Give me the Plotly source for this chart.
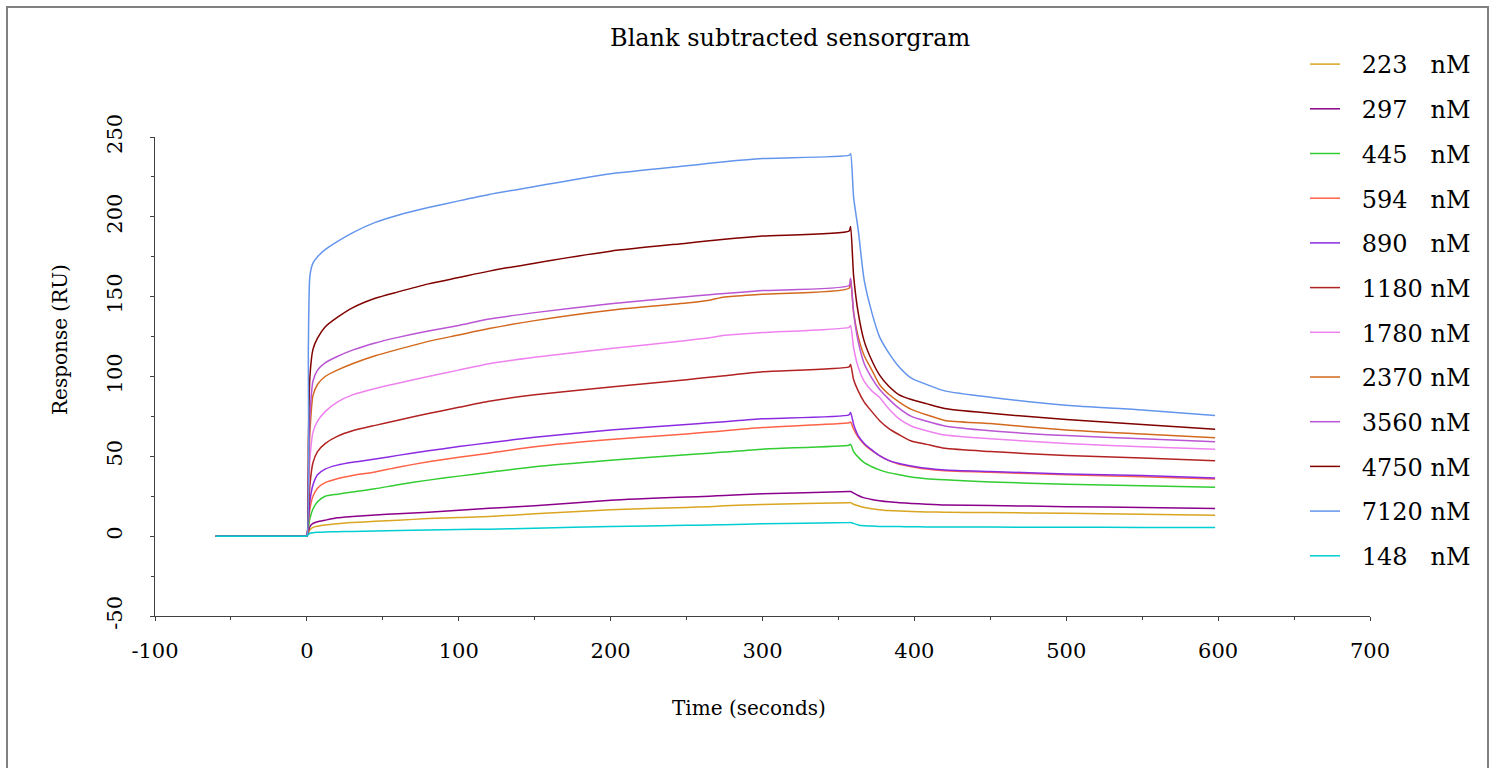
import plotly.graph_objects as go

# Time points (seconds)
times = [-60, -40, -20, -5, -1, 0, 1, 2, 4, 7, 12, 20, 30, 45, 60, 80, 100, 120, 150, 200, 250, 265, 275, 300, 357,
         358, 360, 363, 367, 372, 377, 383, 390, 398, 408, 420, 450, 500, 550, 598]

labels = ["\u2002\u2009223\u2007 nM", "\u2002\u2009297\u2007 nM", "\u2002\u2009445\u2007 nM",
          "\u2002\u2009594\u2007 nM", "\u2002\u2009890\u2007 nM", "\u2002\u20091180 nM",
          "\u2002\u20091780 nM", "\u2002\u20092370 nM", "\u2002\u20093560 nM", "\u2002\u20094750 nM",
          "\u2002\u20097120 nM", "\u2002\u2009148\u2007 nM"]

colors = ["#DAA520", "#8B008B", "#32CD32", "#FF6347", "#8A2BE2", "#B22222",
          "#EE82EE", "#D2691E", "#BA55D3", "#800000", "#6495ED", "#00CED1"]

x_tickvals = [-100, 0, 100, 200, 300, 400, 500, 600, 700]
x_ticktext = ["-100", "0", "100", "200", "300", "400", "500", "600", "700"]
y_tickvals = [-50, 0, 50, 100, 150, 200, 250]
y_ticktext = ["-50", "0", "50", "100", "150", "200", "250"]

base = [0, 0, 0, 0, 0]
r223 = base + [0, 2, 4, 5.5, 6.2, 7, 7.8, 8.5, 9.3, 10, 11, 11.7, 12.3, 14, 16.5, 18, 18.5, 19, 19.8, 21,
        21, 20, 19, 18, 17.2, 16.6, 16, 15.8, 15.5, 15.2, 15, 14.8, 14.3, 13.8, 13.1]
r297 = base + [0, 3, 6, 8, 9, 10, 11.5, 12.3, 13.3, 14, 15, 16.2, 17.5, 19, 22.5, 24.5, 25, 25.5, 26.5, 28,
        28, 27, 25.5, 24, 23, 22.2, 21.5, 21, 20.5, 20, 19.5, 19.2, 18.5, 18, 17.3]
r445 = base + [0, 5, 11, 17, 21.5, 25, 26.3, 27.7, 29.7, 32.2, 35.1, 37.6, 40, 43.5, 47.5, 51, 52, 52.7, 54.5, 57,
        57.5, 53, 49.5, 46, 43.5, 41.5, 39.8, 38.5, 37, 36, 35.3, 34, 32.5, 31.5, 30.6]
r594 = base + [0, 8, 17, 25, 30, 33.5, 36, 38, 40.2, 43.2, 46.6, 49.4, 52, 56, 60.5, 64, 65.2, 66, 68, 71,
        71.5, 67, 62, 57.5, 53.5, 50.5, 47.5, 45, 43.5, 42, 41, 40, 38.5, 37.2, 35.8]
r890 = base + [0, 10, 22, 32, 38.5, 42, 44.5, 46.3, 48.3, 50.6, 53.5, 56.1, 58.5, 62, 66.5, 70, 71, 71.7, 73.5, 76,
        77.5, 70, 63, 58, 54, 50.5, 47.5, 45.5, 44, 42.5, 41.5, 40.5, 39, 38, 36.5]
r1180 = base + [0, 15, 32, 46, 53, 58, 62.5, 66, 69.4, 72.6, 76.8, 80.7, 84.5, 88.5, 93.5, 98, 99.5, 100.5, 103, 106,
         107.5, 98, 91, 84, 78, 72.5, 67.5, 63.5, 59.6, 57.5, 55, 53, 50.5, 49, 47.3]
r1780 = base + [0, 25, 48, 65, 72, 78, 84, 88.5, 92.5, 95.8, 100, 104, 108, 112, 117.5, 122.5, 124.2, 125.8, 127.5, 130.8,
         132, 118, 106, 97, 91, 87, 80, 73.5, 69, 66, 63.3, 61, 58, 56, 54.4]
r2370 = base + [0, 35, 65, 88, 95, 100, 104, 108, 113, 117, 122, 126, 130, 135, 141.5, 146, 147.8, 149.8, 151.5, 155.3,
         161, 140, 125, 113, 104, 95, 89, 84, 79.4, 76, 72.5, 70.5, 66.5, 64, 61.7]
r3560 = base + [0, 40, 75, 97, 104, 108.5, 112.5, 116.5, 121, 124.5, 128.5, 132, 136, 140, 145.6, 150, 151.2, 152, 153.8, 157,
         161.5, 140, 122, 108, 99, 92, 86, 80, 75, 72, 69, 66, 63, 61, 59.2]
r4750 = base + [0, 60, 100, 117, 124, 131, 137, 143, 149, 153, 158, 162, 166, 171, 178.5, 183.5, 185, 186, 188, 191,
         194, 163, 140, 122, 110, 101, 94, 88.5, 85.6, 83, 80, 77, 73, 70, 67]
r7120 = base + [0, 120, 163, 171, 175, 179.5, 184.5, 190, 196.5, 201, 205.8, 210, 214, 219, 227, 232, 233.5, 234.5, 236.5, 238.5,
         239.5, 212, 192, 160, 140, 125, 115, 106, 99, 95, 91, 87, 82, 79, 75.5]
r148 = base + [0, 1, 1.8, 2.2, 2.4, 2.6, 2.8, 3, 3.3, 3.6, 3.9, 4.2, 4.4, 5, 6, 6.8, 7, 7.2, 7.7, 8.5,
        8.6, 8, 7, 6.5, 6.3, 6.1, 6, 6, 5.9, 5.8, 5.8, 5.7, 5.6, 5.5, 5.4]

series = [r223, r297, r445, r594, r890, r1180, r1780, r2370, r3560, r4750, r7120, r148]

FONT = "DejaVu Serif"

fig = go.Figure()
for i, (lab, col, vals) in enumerate(zip(labels, colors, series)):
    fig.add_trace(go.Scatter(x=times, y=vals, mode="lines", name=lab,
                             legendgroup=f"g{i}",
                             line=dict(color=col, width=1.5, shape="spline", smoothing=0.6)))

W, H = 1497, 768
L, R, T, B = 155, 1370, 137, 616
pw, ph = R - L, B - T

def px(x):
    return (x - L) / pw

def py(y):
    return (B - y) / ph

fig.update_layout(
    width=W, height=H,
    margin=dict(l=L, r=W - R, t=T, b=H - B, pad=0),
    paper_bgcolor="white", plot_bgcolor="white",
    font=dict(family=FONT, color="black"),
    showlegend=True,
    legend=dict(x=px(1305), y=py(42), xanchor="left", yanchor="top",
                font=dict(size=24, family=FONT), tracegroupgap=10.5,
                itemwidth=30, maxheight=740,
                bgcolor="rgba(0,0,0,0)"),
    annotations=[
        dict(text="Blank subtracted sensorgram", x=px(790), y=py(38), xref="paper", yref="paper",
             showarrow=False, font=dict(size=24, family=FONT), xanchor="center", yanchor="middle"),
        dict(text="Time (seconds)", x=px(749), y=py(708), xref="paper", yref="paper",
             showarrow=False, font=dict(size=20, family=FONT), xanchor="center", yanchor="middle"),
        dict(text="Response (RU)", x=px(60), y=py(340), xref="paper", yref="paper", textangle=-90,
             showarrow=False, font=dict(size=20, family=FONT), xanchor="center", yanchor="middle"),
    ],
    shapes=[
        dict(type="rect", xref="paper", yref="paper",
             x0=px(7), x1=px(1488), y0=py(790), y1=py(7),
             line=dict(color="#808080", width=2), fillcolor="rgba(0,0,0,0)", layer="below"),
    ],
)

fig.update_xaxes(range=[-100, 700], tickvals=x_tickvals, ticktext=x_ticktext,
                 showgrid=False, zeroline=False, showline=True, linecolor="#404040", linewidth=1,
                 ticks="outside", ticklen=4, tickcolor="#404040",
                 minor=dict(dtick=50, ticks="outside", ticklen=3, tickcolor="#404040"),
                 tickfont=dict(size=21, family=FONT), ticklabelstandoff=12)
fig.update_yaxes(range=[-50, 250], tickvals=y_tickvals, ticktext=y_ticktext,
                 showgrid=False, zeroline=False, showline=True, linecolor="#404040", linewidth=1,
                 ticks="outside", ticklen=4, tickcolor="#404040",
                 minor=dict(dtick=25, ticks="outside", ticklen=3, tickcolor="#404040"),
                 tickangle=-90, tickfont=dict(size=21, family=FONT), ticklabelstandoff=20)

fig.write_html("out.html")
